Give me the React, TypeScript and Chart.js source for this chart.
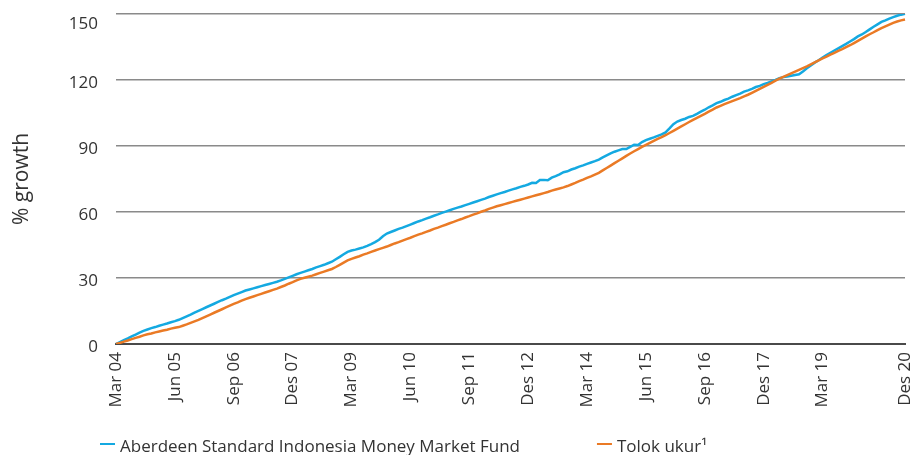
import React, { useEffect, useRef } from "react";
import { Chart, registerables } from "chart.js";

Chart.register(...registerables);

const MONTH_NAMES = ["Jan", "Feb", "Mar", "Apr", "Mei", "Jun", "Jul", "Agu", "Sep", "Okt", "Nov", "Des"];
const START_YEAR = 2004;
const START_MONTH = 2; // March

const FUND = [
  0.0, 0.9, 1.8, 2.6, 3.5, 4.3, 5.2, 6.0, 6.6, 7.2,
  7.7, 8.3, 8.8, 9.3, 9.9, 10.4, 11.0, 11.8, 12.6, 13.4,
  14.3, 15.1, 15.9, 16.7, 17.5, 18.3, 19.1, 19.9, 20.6, 21.4,
  22.2, 22.9, 23.6, 24.3, 24.8, 25.3, 25.8, 26.3, 26.8, 27.3,
  27.8, 28.3, 28.9, 29.6, 30.3, 31.0, 31.7, 32.3, 32.9, 33.5,
  34.1, 34.8, 35.4, 36.0, 36.7, 37.4, 38.5, 39.6, 40.8, 41.9,
  42.5, 42.9, 43.4, 43.9, 44.6, 45.4, 46.3, 47.4, 49.0, 50.2,
  50.9, 51.6, 52.3, 52.9, 53.6, 54.3, 55.0, 55.7, 56.3, 57.0,
  57.6, 58.3, 58.9, 59.6, 60.2, 60.8, 61.4, 62.0, 62.5, 63.1,
  63.7, 64.3, 64.9, 65.5, 66.1, 66.8, 67.4, 68.0, 68.6, 69.1,
  69.7, 70.3, 70.8, 71.4, 71.9, 72.5, 73.3, 73.2, 74.5, 74.6,
  74.4, 75.6, 76.3, 77.1, 78.1, 78.5, 79.3, 79.9, 80.6, 81.2,
  81.9, 82.5, 83.1, 83.8, 84.8, 85.7, 86.6, 87.4, 88.0, 88.6,
  88.6, 89.6, 90.6, 90.5, 91.8, 92.7, 93.3, 93.9, 94.6, 95.3,
  96.2, 98.0, 99.9, 101.1, 101.8, 102.4, 103.2, 103.7, 104.6, 105.6,
  106.5, 107.6, 108.5, 109.5, 110.1, 110.9, 111.5, 112.4, 113.1, 113.8,
  114.7, 115.3, 116.0, 116.8, 117.3, 118.1, 118.7, 119.4, 120.0, 120.8,
  121.3, 121.6, 121.9, 122.3, 122.6, 123.9, 125.3, 126.6, 127.9, 129.0,
  130.2, 131.3, 132.4, 133.4, 134.4, 135.4, 136.4, 137.5, 138.6, 139.8,
  140.7, 141.8, 143.0, 144.2, 145.3, 146.4, 147.1, 147.9, 148.6, 149.2,
  149.7, 150.1,
];

const BENCHMARK = [
  0.0, 0.5, 1.1, 1.6, 2.2, 2.8, 3.3, 3.9, 4.4, 4.8,
  5.3, 5.7, 6.1, 6.5, 7.0, 7.4, 7.7, 8.3, 8.9, 9.6,
  10.3, 11.0, 11.8, 12.6, 13.4, 14.2, 15.0, 15.8, 16.6, 17.4,
  18.2, 18.9, 19.7, 20.4, 21.0, 21.6, 22.2, 22.8, 23.4, 24.0,
  24.6, 25.2, 25.9, 26.6, 27.4, 28.1, 28.9, 29.6, 30.1, 30.6,
  31.1, 31.7, 32.3, 32.9, 33.5, 34.1, 35.0, 36.0, 37.0, 38.0,
  38.7, 39.3, 39.9, 40.6, 41.2, 41.9, 42.5, 43.1, 43.7, 44.3,
  45.0, 45.7, 46.3, 47.0, 47.7, 48.3, 49.0, 49.7, 50.3, 51.0,
  51.6, 52.3, 52.9, 53.6, 54.2, 54.9, 55.5, 56.2, 56.8, 57.5,
  58.1, 58.8, 59.4, 60.1, 60.7, 61.4, 62.0, 62.6, 63.1, 63.6,
  64.1, 64.6, 65.1, 65.6, 66.1, 66.6, 67.1, 67.6, 68.1, 68.6,
  69.1, 69.7, 70.2, 70.7, 71.2, 71.8, 72.5, 73.2, 74.0, 74.7,
  75.5, 76.2, 77.0, 77.8, 78.9, 80.0, 81.1, 82.2, 83.3, 84.4,
  85.5, 86.6, 87.6, 88.6, 89.6, 90.5, 91.4, 92.3, 93.2, 94.0,
  94.9, 95.9, 96.9, 97.9, 98.9, 99.9, 100.9, 101.9, 102.8, 103.7,
  104.6, 105.6, 106.5, 107.5, 108.2, 109.0, 109.7, 110.4, 111.1, 111.8,
  112.6, 113.3, 114.2, 115.1, 116.0, 116.9, 117.8, 118.7, 119.7, 120.6,
  121.4, 122.2, 123.0, 123.8, 124.6, 125.4, 126.2, 127.1, 128.0, 128.9,
  129.8, 130.6, 131.5, 132.3, 133.2, 134.0, 134.9, 135.8, 136.8, 137.8,
  138.8, 139.8, 140.8, 141.7, 142.7, 143.6, 144.4, 145.2, 146.0, 146.6,
  147.1, 147.5,
];

const CATEGORIES = FUND.map((_, i) => {
  const m = START_MONTH + i;
  const yr = (START_YEAR + Math.floor(m / 12)) % 100;
  return MONTH_NAMES[m % 12] + " " + String(yr).padStart(2, "0");
});

const X_TICK_LABELS = [
  "Mar 04", "Jun 05", "Sep 06", "Des 07", "Mar 09", "Jun 10", "Sep 11",
  "Des 12", "Mar 14", "Jun 15", "Sep 16", "Des 17", "Mar 19", "Des 20",
];
const X_TICK_INDEX = X_TICK_LABELS.map((l) => CATEGORIES.indexOf(l)).filter((i) => i >= 0);

const Y_MIN = 0;
const Y_MAX = 150;
const Y_STEP = 30;

const SERIES_NAMES = ["Aberdeen Standard Indonesia Money Market Fund", "Tolok ukur¹"];
const Y_TITLE = "% growth";

const BLUE = "#14a9e1";
const ORANGE = "#ea7a25";
const TEXT = "#333333";
const FONT = "'Open Sans', sans-serif";

const legendPlugin = {
  id: "bottomLegend",
  afterDraw(chart: any) {
    const ctx = chart.ctx;
    ctx.save();
    ctx.font = "17px " + FONT;
    ctx.textBaseline = "alphabetic";
    const colors = [BLUE, ORANGE];
    let x = chart.chartArea.left - 16;
    const lineY = 444;
    const textY = 452;
    SERIES_NAMES.forEach((name, i) => {
      ctx.strokeStyle = colors[i];
      ctx.lineWidth = 2;
      ctx.beginPath();
      ctx.moveTo(x, lineY);
      ctx.lineTo(x + 15, lineY);
      ctx.stroke();
      ctx.fillStyle = TEXT;
      ctx.fillText(name, x + 20, textY);
      x += 20 + ctx.measureText(name).width + 77;
    });
    ctx.restore();
  },
};

export default function App() {
  const canvasRef = useRef<HTMLCanvasElement | null>(null);

  useEffect(() => {
    if (!canvasRef.current) return;
    Chart.defaults.font.family = FONT;
    const chart = new Chart(canvasRef.current, {
      type: "line",
      data: {
        labels: CATEGORIES,
        datasets: [
          {
            label: SERIES_NAMES[0],
            data: FUND,
            borderColor: BLUE,
            backgroundColor: BLUE,
            borderWidth: 2.5,
            pointRadius: 0,
            tension: 0,
            order: 1,
          },
          {
            label: SERIES_NAMES[1],
            data: BENCHMARK,
            borderColor: ORANGE,
            backgroundColor: ORANGE,
            borderWidth: 2.5,
            pointRadius: 0,
            tension: 0,
            order: 0,
          },
        ],
      },
      options: {
        animation: false,
        responsive: true,
        maintainAspectRatio: false,
        devicePixelRatio: 1,
        layout: { padding: { top: 14, right: 11, bottom: 31, left: 0 } },
        plugins: {
          legend: { display: false },
          tooltip: { enabled: false },
        },
        scales: {
          x: {
            type: "category",
            afterBuildTicks: (s: any) => {
              s.ticks = X_TICK_INDEX.map((v) => ({ value: v }));
            },
            afterFit: (s: any) => {
              s.height = 80;
              s.paddingLeft = 0;
              s.paddingRight = 0;
            },
            ticks: {
              autoSkip: false,
              minRotation: 90,
              maxRotation: 90,
              padding: 8,
              color: TEXT,
              font: { size: 17, family: FONT },
              callback: (v: any) => CATEGORIES[v],
            },
            grid: { display: false, drawTicks: false },
            border: { display: true, color: "#4a4a4a", width: 2 },
          },
          y: {
            min: Y_MIN,
            max: Y_MAX,
            afterFit: (s: any) => {
              s.width = 116;
              s.paddingTop = 0;
              s.paddingBottom = 0;
            },
            ticks: {
              stepSize: Y_STEP,
              padding: 18,
              labelOffset: 3,
              color: TEXT,
              font: (c: any) => ({
                size: 17,
                family: FONT,
                lineHeight: c.tick && c.tick.value === Y_MAX ? 0.8 : 1.2,
              }),
              callback: (v: any) => (v === Y_MAX ? ["", String(v)] : String(v)),
            },
            grid: {
              drawTicks: false,
              lineWidth: 1.5,
              color: (c: any) => (c.tick && c.tick.value === Y_MIN ? "rgba(0,0,0,0)" : "#8a8a8a"),
            },
            border: { display: false },
            title: {
              display: true,
              text: Y_TITLE,
              color: TEXT,
              font: { size: 21, family: FONT },
              padding: { top: 9, bottom: 0 },
            },
          },
        },
      },
      plugins: [legendPlugin],
    });
    return () => chart.destroy();
  }, []);

  return (
    <div style={{ position: "fixed", left: 0, top: 0, width: 916, height: 455, background: "#fff" }}>
      <canvas ref={canvasRef} />
    </div>
  );
}
